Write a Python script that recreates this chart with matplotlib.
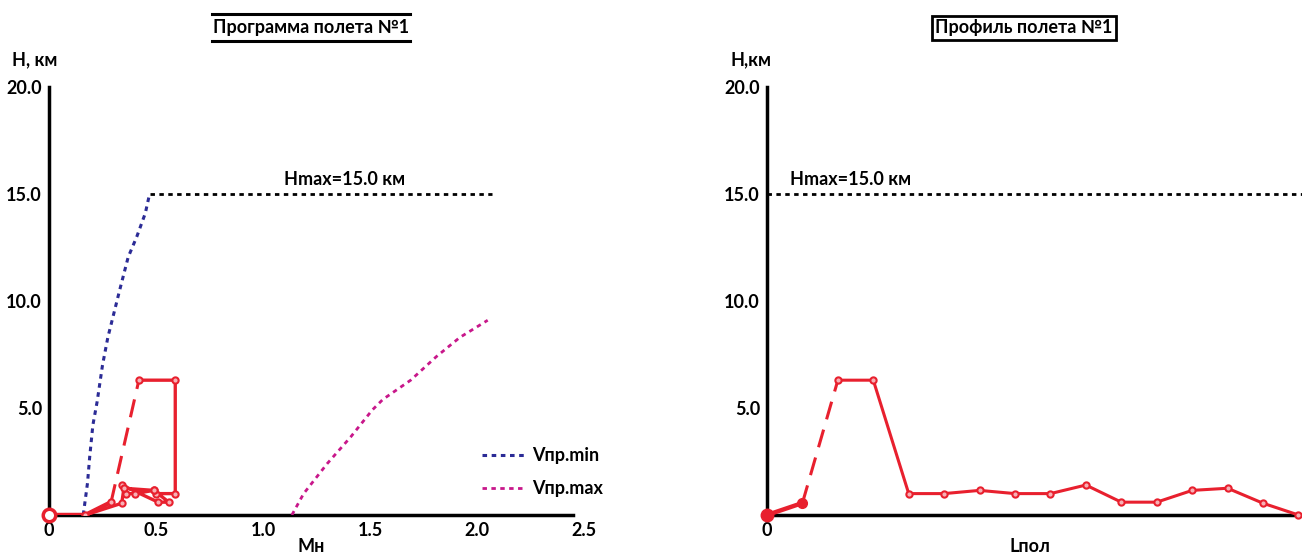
import numpy as np
import matplotlib
matplotlib.use("Agg")
import matplotlib.pyplot as plt
from matplotlib.lines import Line2D

# - - - - - - - DATA - - - - - - -
# Vпр.min boundary (Mach, H km)
vmin_m = [0.16, 0.18, 0.19, 0.205, 0.225, 0.25, 0.275, 0.30, 0.33, 0.37, 0.41, 0.45, 0.47]
vmin_h = [0.0, 1.5, 2.7, 4.2, 5.3, 7.0, 8.3, 9.3, 10.5, 12.05, 13.0, 14.1, 15.0]

# Vпр.max boundary
vmax_m = [1.135, 1.19, 1.30, 1.41, 1.51, 1.56, 1.69, 1.81, 1.92, 2.05]
vmax_h = [0.0, 1.0, 2.4, 3.65, 4.9, 5.4, 6.3, 7.4, 8.3, 9.1]

h_max = 15.0
hmax_m = [0.47, 2.07]

# flight program (Mach, H) - first two points are the takeoff run
prog_m = [0.0, 0.17, 0.29, 0.42, 0.59, 0.59, 0.50, 0.49, 0.40, 0.36, 0.34, 0.51, 0.56, 0.49, 0.35, 0.34, 0.17]
prog_h = [0.0, 0.0, 0.6, 6.3, 6.3, 1.0, 1.0, 1.15, 1.0, 1.0, 1.4, 0.6, 0.6, 1.15, 1.25, 0.55, 0.0]

# flight profile (waypoint index, H)
prof_l = [0, 1, 2, 3, 4, 5, 6, 7, 8, 9, 10, 11, 12, 13, 14, 15]
prof_h = [0.0, 0.56, 6.3, 6.3, 1.0, 1.0, 1.15, 1.0, 1.0, 1.4, 0.6, 0.6, 1.15, 1.25, 0.55, 0.0]

y_ticks = [5, 10, 15, 20]
y_labels = ["5.0", "10.0", "15.0", "20.0"]
m_ticks = [0, 0.5, 1.0, 1.5, 2.0, 2.5]
m_labels = ["0", "0.5", "1.0", "1.5", "2.0", "2.5"]

# - - - - - - - STYLE - - - - - - -
W, H = 1302, 554
RED = "#e8202e"
BLUE = "#2b2b96"
MAGENTA = "#c8178a"
FS = 13

plt.rcParams["font.family"] = ["Lato", "DejaVu Sans"]
plt.rcParams["font.weight"] = "bold"


def fx(px):
	return px / W


def fy(py):
	return 1 - py / H


def setup_axes(ax, xmax):
	ax.set_xlim(0, xmax)
	ax.set_ylim(0, 20)
	for s in ["top", "right"]:
		ax.spines[s].set_visible(False)
	for s in ["left", "bottom"]:
		ax.spines[s].set_linewidth(2.5)
		ax.spines[s].set_zorder(1)
	ax.set_yticks(y_ticks)
	ax.set_yticklabels(y_labels)
	ax.tick_params(length=0, labelsize=FS, pad=5)
	ax.patch.set_alpha(0)


fig = plt.figure(figsize=(W / 100, H / 100), dpi=100)

# - - - - - - - LEFT: program - - - - - - -
ax1 = fig.add_axes([fx(49), 39 / H, 535 / W, 428 / H])
setup_axes(ax1, 2.5)
ax1.spines["bottom"].set_bounds(0, 2.45)
ax1.set_xticks(m_ticks)
ax1.set_xticklabels(m_labels)

ax1.plot(vmin_m, vmin_h, color=BLUE, lw=2.2, dashes=(1.5, 1.5), label="Vпр.min", zorder=3)
ax1.plot(vmax_m, vmax_h, color=MAGENTA, lw=2, dashes=(1.6, 1.6), label="Vпр.max", zorder=3)
ax1.plot(hmax_m, [h_max, h_max], color="black", lw=2, dashes=(1.6, 1.6), zorder=3)
ax1.text(1.38, 15.7, "Hmax=15.0 км", fontsize=FS, ha="center", va="center")

# takeoff and cruise (solid), climb (dashed)
ax1.plot(prog_m[:3], prog_h[:3], color=RED, lw=3.2, zorder=4)
ax1.plot(prog_m[2:4], prog_h[2:4], color=RED, lw=2.2, dashes=(6, 3.5), zorder=4)
ax1.plot(prog_m[3:], prog_h[3:], color=RED, lw=2.4, zorder=4)
ax1.plot(prog_m[2:], prog_h[2:], ls="none", marker="o", ms=4.5, mfc="#f7b0b5", mec=RED, mew=1.5, zorder=5)
ax1.plot(prog_m[:1], prog_h[:1], ls="none", marker="o", ms=9, mfc="white", mec=RED, mew=2.5, zorder=5, clip_on=False)

ax1.legend(loc="upper left", bbox_to_anchor=(fx(482), fy(447)), bbox_transform=fig.transFigure,
	frameon=False, fontsize=FS, handlelength=2.4, handletextpad=0.4, labelspacing=0.9,
	borderpad=0, borderaxespad=0)

# - - - - - - - RIGHT: profile - - - - - - -
ax2 = fig.add_axes([fx(767), 39 / H, 535 / W, 428 / H])
setup_axes(ax2, 15.1)
ax2.set_xticks([0])
ax2.set_xticklabels(["0"])

ax2.axhline(h_max, color="black", lw=2, dashes=(1.6, 1.6), zorder=3)
ax2.text(0.65, 15.7, "Hmax=15.0 км", fontsize=FS, ha="left", va="center")

ax2.plot(prof_l[:2], prof_h[:2], color=RED, lw=3.2, zorder=4)
ax2.plot(prof_l[1:3], prof_h[1:3], color=RED, lw=2.2, dashes=(6, 3.5), zorder=4)
ax2.plot(prof_l[2:], prof_h[2:], color=RED, lw=2.2, zorder=4)
ax2.plot(prof_l[2:], prof_h[2:], ls="none", marker="o", ms=4.5, mfc="#f7b0b5", mec=RED, mew=1.5, zorder=5, clip_on=False)
ax2.plot(prof_l[1:2], prof_h[1:2], ls="none", marker="o", ms=7, color=RED, zorder=5)
ax2.plot(prof_l[:1], prof_h[:1], ls="none", marker="o", ms=9, color=RED, zorder=5, clip_on=False)

# - - - - - - - TEXTS - - - - - - -
fig.text(fx(12), fy(60), "H, км", fontsize=FS, ha="left", va="center")
fig.text(fx(730), fy(60), "H,км", fontsize=FS, ha="left", va="center")
fig.text(fx(311), fy(538), "Mн", fontsize=FS, ha="center", va="top")
fig.text(fx(1030), fy(538), "Lпол", fontsize=FS, ha="center", va="top")

fig.text(fx(311), fy(28), "Программа полета №1", fontsize=FS, ha="center", va="center")
for yy in [14, 41]:
	fig.add_artist(Line2D([fx(212), fx(410)], [fy(yy), fy(yy)], color="black", lw=2.2, transform=fig.transFigure))
fig.text(fx(1024), fy(28), "Профиль полета №1", fontsize=FS, ha="center", va="center",
	bbox=dict(boxstyle="square,pad=0.2", fc="white", ec="black", lw=2))

fig.savefig("out.png", dpi=100)
